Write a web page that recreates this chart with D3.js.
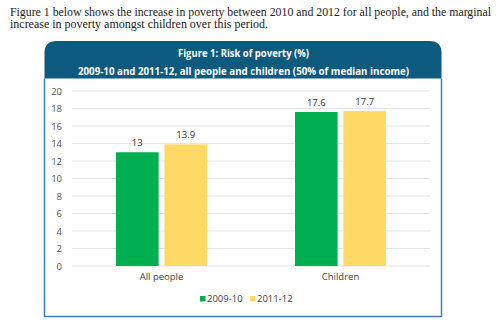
<!DOCTYPE html>
<html><head><meta charset="utf-8">
<script src="https://cdn.jsdelivr.net/npm/d3@7"></script>
<style>body{margin:0;background:#fff}svg{display:block}</style>
</head><body>
<svg id="c" width="500" height="327"></svg>
<script>
const categories = ["All people", "Children"];
const seriesNames = ["2009-10", "2011-12"];
const values2009 = [13, 17.6];
const values2011 = [13.9, 17.7];
const yTicks = [0, 2, 4, 6, 8, 10, 12, 14, 16, 18, 20];
const introLines = ["Figure 1 below shows the increase in poverty between 2010 and 2012 for all people, and the marginal",
                    "increase in poverty amongst children over this period."];
const titleLines = ["Figure 1: Risk of poverty (%)", "2009-10 and 2011-12, all people and children (50% of median income)"];
const colors = ["#00b050", "#ffd966"];

const svg = d3.select("#c");
const sans = "'Open Sans', sans-serif";

// intro text
const introLen = [481, 258];
svg.selectAll("text.intro").data(introLines).join("text")
  .attr("x", 10).attr("y", (d,i) => 16 + i*11.5)
  .attr("font-family", "'Liberation Serif', serif").attr("font-size", 11.5)
  .attr("textLength", (d,i) => introLen[i]).attr("lengthAdjust", "spacingAndGlyphs")
  .attr("fill", "#222").text(d => d);

// panel
const L = 44.5, R = 441.5, T = 41, HB = 78.5, B = 316.5, r = 12;
svg.append("path")
  .attr("d", `M${L},${HB} V${T+r} Q${L},${T} ${L+r},${T} H${R-r} Q${R},${T} ${R},${T+r} V${HB} Z`)
  .attr("fill", "#0c5a7d");
svg.append("path")
  .attr("d", `M${L},${HB} V${B} H${R} V${HB}`)
  .attr("fill", "none").attr("stroke", "#3a80c3").attr("stroke-width", 1.5);

const titleLen = [131, 331];
svg.selectAll("text.title").data(titleLines).join("text")
  .attr("x", (L+R)/2 + 0.5).attr("y", (d,i) => 57 + i*18)
  .attr("text-anchor", "middle").attr("font-family", sans).attr("font-weight", "bold")
  .attr("font-size", 11).attr("textLength", (d,i) => titleLen[i]).attr("lengthAdjust", "spacingAndGlyphs")
  .attr("fill", "#fff").text(d => d);

// scales
const x = d3.scaleBand().domain(categories).range([72, 430]);
const xs = d3.scaleBand().domain(seriesNames).range([0, 91]).paddingInner(0.12);
const y = d3.scaleLinear().domain([0, 20]).range([266, 91]);

// grid
svg.append("g").selectAll("line").data(yTicks).join("line")
  .attr("x1", 72).attr("x2", 430).attr("y1", d => y(d)).attr("y2", d => y(d))
  .attr("stroke", "#e3e3e3").attr("stroke-width", 1);

// y axis
const yAxis = d3.axisLeft(y).tickValues(yTicks).tickSize(0).tickPadding(0);
const gy = svg.append("g").attr("transform", "translate(62,0)").call(yAxis);
gy.select(".domain").remove();
gy.selectAll("text").attr("font-family", sans).attr("font-size", 9.5).attr("fill", "#555");

// bars
const series = [values2009, values2011];
const groups = svg.append("g").selectAll("g").data(categories).join("g")
  .attr("transform", d => `translate(${x(d) + (x.bandwidth() - 91)/2},0)`);
groups.each(function(cat, ci) {
  const g = d3.select(this);
  seriesNames.forEach((s, si) => {
    const v = series[si][ci];
    g.append("rect").attr("x", xs(s)).attr("width", xs.bandwidth())
      .attr("y", y(v)).attr("height", y(0) - y(v)).attr("fill", colors[si]);
    g.append("text").attr("x", xs(s) + xs.bandwidth()/2).attr("y", y(v) - 6)
      .attr("text-anchor", "middle").attr("font-family", sans).attr("font-size", 9.5)
      .attr("fill", "#333").text(v);
  });
});

// x axis
const xAxis = d3.axisBottom(x).tickSize(0).tickPadding(0);
const gx = svg.append("g").attr("transform", "translate(0,273)").call(xAxis);
gx.select(".domain").remove();
gx.selectAll("text").attr("font-family", sans).attr("font-size", 9.5).attr("fill", "#444");

// legend
const leg = svg.append("g").selectAll("g").data(seriesNames).join("g")
  .attr("transform", (d,i) => `translate(${200 + i*50},297)`);
leg.append("rect").attr("width", 5.5).attr("height", 5.5).attr("y", -1).attr("fill", (d,i) => colors[i]);
leg.append("text").attr("x", 7).attr("y", 4.5).attr("font-family", sans).attr("font-size", 9.5)
  .attr("fill", "#444").text(d => d);
</script>
</body></html>
